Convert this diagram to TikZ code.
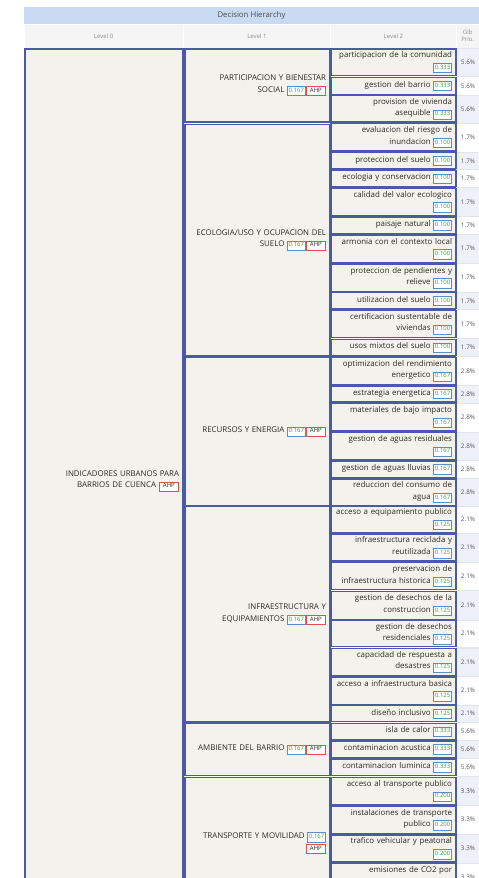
\documentclass[tikz,border=0pt]{standalone}
\usepackage{fontspec}
\setmainfont{Open Sans}
\usetikzlibrary{positioning}

\definecolor{boxfill}{HTML}{F3F2EC}
\definecolor{boxline}{HTML}{4A5AA8}
\definecolor{titlefill}{HTML}{C8DBF3}
\definecolor{headfill}{HTML}{F5F5F5}
\definecolor{glbshade}{HTML}{EEF1F7}
\definecolor{glbline}{HTML}{E2E5EA}
\definecolor{wtblue}{HTML}{5B8EC5}
\definecolor{wtgreen}{HTML}{3E9A3E}
\definecolor{ahpred}{HTML}{D9534F}
\definecolor{txtgray}{HTML}{2A2A2A}

\newcommand{\wtag}[1]{{\setlength{\fboxsep}{1.1pt}\setlength{\fboxrule}{0.6pt}%
  \fcolorbox{wtblue}{white}{\fontsize{6}{6.5}\selectfont\color{wtgreen}\strut#1}}}
\newcommand{\ahptag}{{\setlength{\fboxsep}{1.1pt}\setlength{\fboxrule}{0.6pt}%
  \fcolorbox{ahpred}{white}{\fontsize{6}{6.5}\selectfont\strut\hspace{2.5pt}AHP\hspace{2.5pt}}}}

\begin{document}
\begin{tikzpicture}[x=1pt, y=-1pt,
  title/.style = {rectangle, fill=titlefill, minimum width=455, minimum height=17,
    inner sep=0pt, text=black!70, font=\fontsize{7.8}{9}\selectfont},
  head/.style = {rectangle, fill=headfill, draw=white, line width=0.6pt, minimum height=24,
    inner sep=0pt, align=center, text=black!45, font=\fontsize{6}{7.5}\selectfont},
  box/.style = {rectangle, draw=boxline, line width=1.2pt, fill=boxfill, inner xsep=4pt,
    inner ysep=1pt, align=right, text=txtgray, font=\fontsize{7.9}{11.5}\selectfont},
  lvzero/.style = {box, text width=150pt, minimum height=864},
  lvone/.style = {box, text width=137pt},
  crit/.style = {box, text width=117pt},
  glb/.style = {rectangle, draw=glbline, line width=0.4pt, minimum width=23, inner sep=0pt,
    text=black!65, font=\fontsize{6.3}{7}\selectfont}
]
\useasboundingbox (0,0) rectangle (479,878);
\clip (0,0) rectangle (479,878);

% title and column heads
\node[title] (dh) at (251.5,15.5) {Decision Hierarchy};
\node[head, minimum width=159.5] (h0) at (103.75,36) {Level 0};
\node[head, minimum width=147] (h1) at (257,36) {Level 1};
\node[head, minimum width=126] (h2) at (393.5,36) {Level 2};
\node[head, minimum width=22.5] (h3) at (467.75,36) {Glb\\Prio.};

% level 0
\node[lvzero] (root) at (104,481) {INDICADORES URBANOS PARA\\BARRIOS DE CUENCA \ahptag};

% level 1
\node[lvone, minimum height=73] (partic) at (257.5,85.5)
  {PARTICIPACION Y BIENESTAR\\SOCIAL \wtag{0.167}\ahptag};
\node[lvone, minimum height=231.7] (ecolog) at (257.5,240.15)
  {ECOLOGIA/USO Y OCUPACION DEL\\SUELO \wtag{0.167}\ahptag};
\node[lvone, minimum height=148.4] (recurs) at (257.5,431.5)
  {RECURSOS Y ENERGIA \wtag{0.167}\ahptag};
\node[lvone, minimum height=215.5] (infra) at (257.5,614.25)
  {INFRAESTRUCTURA Y\\EQUIPAMIENTOS \wtag{0.167}\ahptag};
\node[lvone, minimum height=52] (ambien) at (257.5,749.5)
  {AMBIENTE DEL BARRIO \wtag{0.167}\ahptag};
\node[lvone, minimum height=131.7] (transp) at (257.5,843.15)
  {TRANSPORTE Y MOVILIDAD \wtag{0.167}\\\ahptag};

% level 2 and global priorities
\foreach \ya/\yb/\txt/\g [count=\n] in {
  49/75.7/{participacion de la comunidad\\\wtag{0.333}}/5.6,
  77.3/94.3/{gestion del barrio \wtag{0.333}}/5.6,
  95.7/122/{provision de vivienda\\asequible \wtag{0.333}}/5.6,
  123.7/151/{evaluacion del riesgo de\\inundacion \wtag{0.100}}/1.7,
  152.7/169/{proteccion del suelo \wtag{0.100}}/1.7,
  170.3/187/{ecologia y conservacion \wtag{0.100}}/1.7,
  188.3/215.3/{calidad del valor ecologico\\\wtag{0.100}}/1.7,
  217/233.3/{paisaje natural \wtag{0.100}}/1.7,
  235/262.3/{armonia con el contexto local\\\wtag{0.100}}/1.7,
  264/291.3/{proteccion de pendientes y\\relieve \wtag{0.100}}/1.7,
  292.7/309/{utilizacion del suelo \wtag{0.100}}/1.7,
  310.3/337.7/{certificacion sustentable de\\viviendas \wtag{0.100}}/1.7,
  339.3/356/{usos mixtos del suelo \wtag{0.100}}/1.7,
  357.3/384.7/{optimizacion del rendimiento\\energetico \wtag{0.167}}/2.8,
  386/402/{estrategia energetica \wtag{0.167}}/2.8,
  403.7/431/{materiales de bajo impacto\\\wtag{0.167}}/2.8,
  432.7/459.3/{gestion de aguas residuales\\\wtag{0.167}}/2.8,
  461/477.3/{gestion de aguas lluvias \wtag{0.167}}/2.8,
  479/505.7/{reduccion del consumo de\\agua \wtag{0.167}}/2.8,
  506.5/532.3/{acceso a equipamiento publico\\\wtag{0.125}}/2.1,
  534/561/{infraestructura reciclada y\\reutilizada \wtag{0.125}}/2.1,
  562.7/589.7/{preservacion de\\infraestructura historica \wtag{0.125}}/2.1,
  591.3/619.3/{gestion de desechos de la\\construccion \wtag{0.125}}/2.1,
  620.7/646.7/{gestion de desechos\\residenciales \wtag{0.125}}/2.1,
  648.7/675.3/{capacidad de respuesta a\\desastres \wtag{0.125}}/2.1,
  677/704.3/{acceso a infraestructura basica\\\wtag{0.125}}/2.1,
  705.7/721.7/{diseño inclusivo \wtag{0.125}}/2.1,
  723.3/739.7/{isla de calor \wtag{0.333}}/5.6,
  741/757.3/{contaminacion acustica \wtag{0.333}}/5.6,
  759/775.3/{contaminacion luminica \wtag{0.333}}/5.6,
  777.3/804.7/{acceso al transporte publico\\\wtag{0.200}}/3.3,
  806/833.3/{instalaciones de transporte\\publico \wtag{0.200}}/3.3,
  835/862/{trafico vehicular y peatonal\\\wtag{0.200}}/3.3,
  863.7/891/{emisiones de CO2 por\\\wtag{0.200}}/3.3}
{
  \ifodd\n \def\shcol{glbshade}\else \def\shcol{white}\fi
  \node[glb, fill=\shcol, minimum height={\yb-\ya+1.6}] (g\n) at (468,{(\ya+\yb)/2}) {\g\%};
  \node[crit, minimum height={\yb-\ya}] (c\n) at (393.5,{(\ya+\yb)/2}) {\txt};
}
\end{tikzpicture}
\end{document}
